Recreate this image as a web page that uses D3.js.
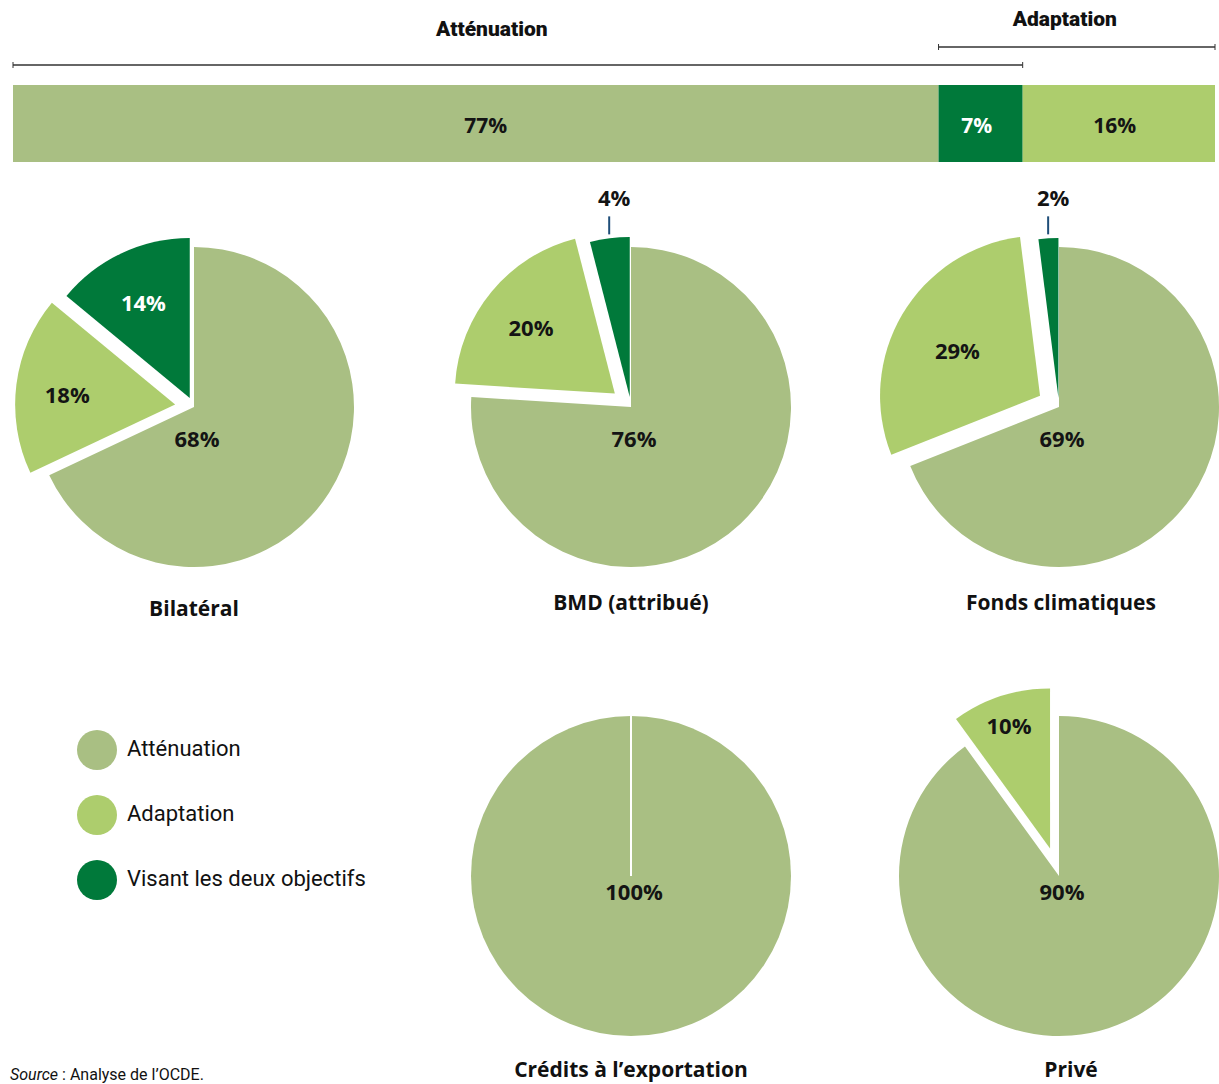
<!DOCTYPE html>
<html><head><meta charset="utf-8">
<script src="https://cdn.jsdelivr.net/npm/d3@7"></script>
<style>
html,body{margin:0;padding:0;background:#fff;}
svg{display:block;font-family:Roboto,"Open Sans",sans-serif;}
</style></head>
<body>
<svg id="chart" width="1219" height="1084"></svg>
<script>
// ---- DATA ----
const categories = ["Atténuation", "Adaptation", "Visant les deux objectifs"];
const barCategories = ["Atténuation", "Visant les deux objectifs", "Adaptation"];
const barValues = [77, 7, 16];
const pieNames = ["Bilatéral", "BMD (attribué)", "Fonds climatiques", "Crédits à l\u2019exportation", "Privé"];
const bilateral = [68, 18, 14];
const bmd = [76, 20, 4];
const fonds = [69, 29, 2];
const credits = [100, 0, 0];
const prive = [90, 10, 0];
const pieValues = [bilateral, bmd, fonds, credits, prive];
const bracketLabels = ["Atténuation", "Adaptation"];
const sourceNote = ["Source", " : Analyse de l\u2019OCDE."];

// ---- STYLE / LAYOUT ----
const colors = {"Atténuation":"#a9bf83","Adaptation":"#adcd6d","Visant les deux objectifs":"#00793a"};
const textColor = {"Atténuation":"#141414","Adaptation":"#141414","Visant les deux objectifs":"#ffffff"};
const boldFont = "'Open Sans', Roboto, sans-serif";
const svg = d3.select("#chart");

// top stacked bar
const x = d3.scaleLinear().domain([0,100]).range([13,1215]);
let acc = 0;
const barData = barValues.map((v,i)=>{const d={cat:barCategories[i],v,x0:acc,x1:acc+v};acc+=v;return d;});
const barG = svg.append("g");
barG.selectAll("rect").data(barData).join("rect")
  .attr("x",d=>x(d.x0)).attr("width",d=>x(d.x1)-x(d.x0))
  .attr("y",85).attr("height",77)
  .attr("fill",d=>colors[d.cat]);
barG.selectAll("text").data(barData).join("text")
  .attr("x",(d,i)=>(x(d.x0)+x(d.x1))/2 + (i===0?10:-4)).attr("y",127)
  .attr("text-anchor","middle").attr("dominant-baseline","middle")
  .attr("font-family",boldFont).attr("font-weight","bold").attr("font-size",21)
  .attr("fill",d=>textColor[d.cat])
  .text(d=>d.v+"%");

// brackets
const brackets = [
  {label:bracketLabels[0], a:0, b:barValues[0]+barValues[1], y:65, ty:30, dx:-26},
  {label:bracketLabels[1], a:barValues[0], b:100, y:47, ty:20, dx:-12}
];
brackets.forEach(bk=>{
  const g = svg.append("g");
  g.append("line").attr("x1",x(bk.a)).attr("x2",x(bk.b)).attr("y1",bk.y).attr("y2",bk.y)
    .attr("stroke","#333").attr("stroke-width",1.3);
  [bk.a,bk.b].forEach(v=>g.append("line").attr("x1",x(v)).attr("x2",x(v))
    .attr("y1",bk.y-3).attr("y2",bk.y+3).attr("stroke","#333").attr("stroke-width",1));
  g.append("text").attr("x",(x(bk.a)+x(bk.b))/2 + bk.dx).attr("y",bk.ty)
    .attr("text-anchor","middle").attr("dominant-baseline","middle")
    .attr("font-weight",900).attr("font-size",21).attr("fill","#111").text(bk.label);
});

// pies
const R = 160;
const centers = [[194,407],[631,407],[1059,407],[631,876],[1059,876]];
const titleY = [610,604,604,1071,1071];
const titleDx = [0,0,2,0,12];
const explode = [[0,19,10],[0,21,10],[0,22,9],[0,0,0],[0,29,0]];
const labelR = [0.68,0.68,0.6,0.68,0.83];
const mainLabelDy = [34,34,34,18,18];
const pie = d3.pie().sort(null).value(d=>d.v);
const arc = d3.arc().innerRadius(0).outerRadius(R);

pieValues.forEach((vals,pi)=>{
  const [cx,cy] = centers[pi];
  const g = svg.append("g").attr("transform",`translate(${cx},${cy})`);
  const data = vals.map((v,i)=>({cat:categories[i],v,idx:i}));
  const arcs = pie(data).filter(d=>d.data.v>0);
  arcs.forEach(a=>{
    const mid = (a.startAngle+a.endAngle)/2;
    const e = explode[pi][a.data.idx];
    const ox = Math.sin(mid)*e, oy = -Math.cos(mid)*e;
    const sg = g.append("g").attr("transform",`translate(${ox},${oy})`);
    sg.append("path").attr("d",arc(a)).attr("fill",colors[a.data.cat]);
    if(a.data.v===100){
      sg.append("line").attr("x1",0).attr("y1",0).attr("x2",0).attr("y2",-R)
        .attr("stroke","#fff").attr("stroke-width",2);
    }
    let lx, ly;
    if(a.data.idx===0){ lx = 3; ly = mainLabelDy[pi]; }
    else if(a.data.v<=5){
      const px = Math.sin(mid)*(R+4), py = -Math.cos(mid)*(R+4);
      sg.append("line").attr("x1",px).attr("x2",px).attr("y1",py).attr("y2",py-18)
        .attr("stroke","#1f4e79").attr("stroke-width",2);
      lx = px+5; ly = py-34;
    } else {
      const lr = R*labelR[pi];
      lx = Math.sin(mid)*lr; ly = -Math.cos(mid)*lr + 6;
    }
    sg.append("text").attr("x",lx).attr("y",ly)
      .attr("text-anchor","middle").attr("dominant-baseline","middle")
      .attr("font-family",boldFont).attr("font-weight","bold").attr("font-size",22)
      .attr("fill", a.data.v<=5 ? "#141414" : textColor[a.data.cat])
      .text(a.data.v+"%");
  });
  svg.append("text").attr("x",cx+titleDx[pi]).attr("y",titleY[pi])
    .attr("text-anchor","middle").attr("dominant-baseline","middle")
    .attr("font-family",boldFont).attr("font-weight","bold").attr("font-size",21).attr("fill","#111")
    .text(pieNames[pi]);
});

// legend
const lg = svg.append("g");
categories.forEach((c,i)=>{
  const y = 750 + i*65;
  lg.append("circle").attr("cx",97).attr("cy",y).attr("r",20).attr("fill",colors[c]);
  lg.append("text").attr("x",127).attr("y",y).attr("dominant-baseline","middle")
    .attr("font-size",22).attr("fill","#111").text(c);
});

// source
const st = svg.append("text").attr("x",10).attr("y",1076).attr("dominant-baseline","middle")
  .attr("font-size",16).attr("fill","#111");
st.append("tspan").attr("font-style","italic").text(sourceNote[0]);
st.append("tspan").text(sourceNote[1]);
</script>
</body></html>
